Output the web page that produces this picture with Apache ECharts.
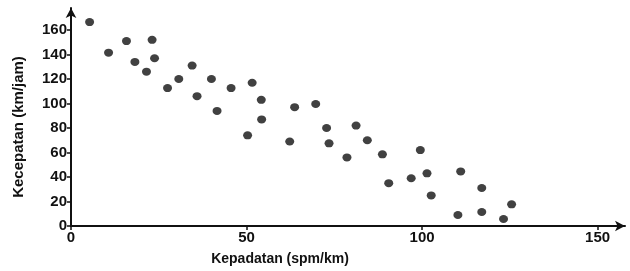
<!DOCTYPE html>
<html>
<head>
<meta charset="utf-8">
<script src="https://cdn.jsdelivr.net/npm/echarts@6/dist/echarts.min.js"></script>
<style>
  html, body { margin: 0; padding: 0; background: #fff; }
  #chart { width: 630px; height: 271px; }
</style>
</head>
<body>
<div id="chart"></div>
<script>
// kepadatan (spm/km) vs kecepatan (km/jam)
const kepadatan = [5.3, 10.7, 15.8, 18.2, 21.5, 23.1, 23.8, 27.5, 30.7, 34.5,
  35.9, 40, 41.6, 45.6, 50.3, 51.6, 54.2, 54.3, 62.3, 63.7, 69.7,
  72.8, 73.5, 78.6, 81.2, 84.4, 88.7, 90.5, 96.9, 99.5, 101.4, 102.6,
  110.2, 111, 117, 117, 123.2, 125.5];
const kecepatan = [166.5, 141.5, 151, 134, 126, 152, 137, 112.6, 120, 131,
  106, 120, 94, 112.6, 74, 117, 103, 87, 69, 97, 99.6,
  80, 67.5, 56, 82, 70, 58.5, 35, 39, 62, 43, 25,
  9, 44.6, 31, 11.4, 5.7, 17.7];
const xTicks = [0, 50, 100, 150];
const yTicks = [0, 20, 40, 60, 80, 100, 120, 140, 160];

const fontFam = "'Liberation Sans', Arial, sans-serif";

function buildPoints() {
  let pts = [];
  for (let i = 0; i < kepadatan.length; i++) {
    pts.push([kepadatan[i], kecepatan[i]]);
  }
  return pts;
}

var myChart = echarts.init(document.getElementById("chart"));

let option = {
  animation: false,
  grid: {
    left: 71,
    right: 5,
    top: 8,
    bottom: 45
  },
  xAxis: {
    type: "value",
    min: 0,
    max: 157.8,
    name: "Kepadatan (spm/km)",
    nameLocation: "middle",
    nameGap: 26,
    nameTextStyle: {
      color: "#111",
      fontFamily: fontFam,
      fontWeight: "bold",
      fontSize: 14,
      padding: [0, 136, 0, 0]
    },
    splitLine: { show: false },
    axisLine: {
      lineStyle: { color: "#111", width: 2 },
      symbol: ["none", "arrow"],
      symbolSize: [8, 10]
    },
    axisTick: {
      customValues: xTicks,
      length: 4,
      lineStyle: { color: "#111", width: 1.5 }
    },
    axisLabel: {
      customValues: xTicks,
      color: "#111",
      fontFamily: fontFam,
      fontWeight: "bold",
      fontSize: 15,
      margin: 4
    }
  },
  yAxis: {
    type: "value",
    min: 0,
    max: 178,
    name: "Kecepatan (km/jam)",
    nameLocation: "middle",
    nameGap: 45,
    nameTextStyle: {
      color: "#111",
      fontFamily: fontFam,
      fontWeight: "bold",
      fontSize: 15,
      padding: [0, 0, 0, -20]
    },
    splitLine: { show: false },
    axisLine: {
      lineStyle: { color: "#111", width: 2 },
      symbol: ["none", "arrow"],
      symbolSize: [8, 10]
    },
    axisTick: {
      customValues: yTicks,
      length: 4,
      lineStyle: { color: "#111", width: 1.5 }
    },
    axisLabel: {
      customValues: yTicks,
      color: "#111",
      fontFamily: fontFam,
      fontWeight: "bold",
      fontSize: 15,
      margin: 4
    }
  },
  series: [
    {
      type: "scatter",
      symbol: "circle",
      symbolSize: [9, 8],
      itemStyle: { color: "#111" },
      data: buildPoints()
    }
  ]
};
myChart.setOption(option);
</script>
</body>
</html>
